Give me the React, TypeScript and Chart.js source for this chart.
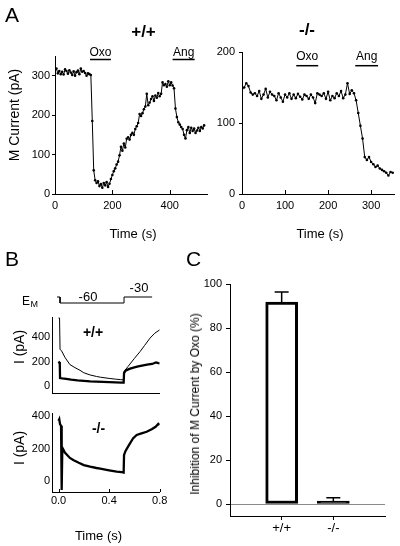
import React, { useEffect, useRef } from 'react';
import { Chart, registerables } from 'chart.js';

Chart.register(...registerables);

const FONT = '"Liberation Sans", Arial, Helvetica, sans-serif';
Chart.defaults.font.family = FONT;
Chart.defaults.color = '#000';

// ---------- Panel A, +/+ : M current vs time ----------
const wtTime = [0,5,10,15,20,25,30,35,40,45,50,55,60,65,70,75,80,85,90,95,100,105,110,115,120,125,130,135,140,145,150,155,160,165,170,175,180,185,190,195,200,205,210,215,220,225,230,235,240,245,250,255,260,265,270,275,280,285,290,295,300,305,310,315,320,325,330,335,340,345,350,355,360,365,370,375,380,385,390,395,400,405,410,415,420,425,430,435,440,445,450,455,460,465,470,475,480,485,490,495,500,505,510,515,520];
const wtCurrent = [315,318,306,312,304,310,303,316,312,305,314,308,302,311,300,309,313,304,318,310,312,307,300,306,304,302,
  185,60,35,28,32,20,25,16,28,22,30,18,26,38,48,58,65,75,82,98,120,110,128,118,140,144,138,150,155,150,
  165,172,180,203,198,205,215,222,254,225,232,241,248,236,250,244,256,248,254,283,276,279,272,286,276,283,275,268,217,195,
  182,176,170,165,150,141,162,170,155,168,160,166,155,161,168,160,170,166,174];
const wtOxo = [122, 195];
const wtAng = [410, 487];
const aWtXTicks = [0, 200, 400];
const aWtYTicks = [0, 100, 200, 300];

// ---------- Panel A, -/- ----------
const koTime = [0,5,10,15,20,25,30,35,40,45,50,55,60,65,70,75,80,85,90,95,100,105,110,115,120,125,130,135,140,145,150,155,160,165,170,175,180,185,190,195,200,205,210,215,220,225,230,235,240,245,250,255,260,265,270,275,280,285,290,295,300,305,310,315,320,325,330,335,340,345,350];
const koCurrent = [148,150,156,152,143,140,142,138,145,134,140,148,
  136,144,140,138,132,142,136,130,140,136,142,134,
  140,135,141,137,133,140,138,134,140,136,128,142,
  140,138,142,134,144,132,138,135,142,138,145,135,
  140,156,141,146,142,132,114,96,78,52,48,52,
  45,42,38,40,36,34,32,30,26,31,30];
const koOxo = [126, 177];
const koAng = [263, 316];
const aKoXTicks = [0, 100, 200, 300];
const aKoYTicks = [0, 100, 200];

// ---------- Panel B ----------
const emTime = [-0.012, 0.012, 0.012, 0.518, 0.518, 0.74];
const emLevel = [-30, -30, -60, -60, -30, -30];

const bWtCtrlTime = [0,0.008,0.012,0.025,0.05,0.065,0.09,0.13,0.17,0.2,0.25,0.3,0.33,0.4,0.45,0.49,0.515,0.518,0.55,0.6,0.644,0.68,0.723,0.76,0.8];
const bWtCtrlCurrent = [555,555,300,285,235,212,175,150,128,108,90,78,72,62,56,52,50,118,160,225,280,330,390,430,458];
const bWtOxoTime = [0,0.004,0.01,0.012,0.03,0.06,0.1,0.15,0.2,0.25,0.3,0.35,0.4,0.45,0.5,0.515,0.518,0.53,0.56,0.6,0.63,0.66,0.7,0.74,0.77,0.79,0.8];
const bWtOxoCurrent = [200,195,180,65,62,58,52,46,42,38,36,33,31,30,28,28,105,125,140,152,160,166,174,180,192,186,184];
const bKoTime = [0,0.006,0.012,0.02,0.025,0.03,0.05,0.09,0.12,0.16,0.2,0.25,0.3,0.33,0.4,0.46,0.5,0.515,0.518,0.53,0.552,0.589,0.618,0.65,0.697,0.74,0.77,0.789,0.8];
const bKoCurrent = [370,380,350,340,-55,205,175,142,128,112,98,88,80,76,66,58,54,52,160,185,215,262,283,292,303,320,335,352,345];
const bXTicks = [0, 0.4, 0.8];
const bYTicks = [0, 200, 400];

// ---------- Panel C ----------
const cGroups = ['+/+', '-/-'];
const cInhibition = [91.8, 0.5];
const cSem = [4.6, 2.4];
const cYTicks = [0, 20, 40, 60, 80, 100];

// ---------- helpers ----------
const zip = (xs: number[], ys: number[]) => xs.map((x, i) => ({ x, y: ys[i] }));
const fixTicks = (vals: number[]) => (s: any) => { s.ticks = vals.map((v) => ({ value: v })); };
const tickFont = { size: 11, family: FONT };
const border = { display: true, color: '#000', width: 1 };
const noPlugins = { legend: { display: false }, tooltip: { enabled: false } };

const innerTicksPlugin = {
  id: 'innerTicks',
  afterDatasetsDraw(chart: any, _a: any, opts: any) {
    if (!opts || !opts.length) return;
    const s = chart.scales.x;
    const ctx = chart.ctx;
    const b = chart.chartArea.bottom;
    ctx.save();
    ctx.strokeStyle = '#000';
    ctx.lineWidth = 1;
    s.ticks.forEach((t: any) => {
      const px = Math.round(s.getPixelForValue(t.value)) + 0.5;
      ctx.beginPath();
      ctx.moveTo(px, b);
      ctx.lineTo(px, b - opts.length);
      ctx.stroke();
    });
    ctx.restore();
  },
};

const drugBarsPlugin = {
  id: 'drugBars',
  afterDatasetsDraw(chart: any, _a: any, opts: any) {
    if (!opts || !opts.bars) return;
    const s = chart.scales.x;
    const ctx = chart.ctx;
    const y = chart.chartArea.top + opts.offset;
    ctx.save();
    ctx.strokeStyle = '#000';
    ctx.fillStyle = '#000';
    ctx.lineWidth = 1.5;
    ctx.font = `12px ${FONT}`;
    ctx.textAlign = 'center';
    ctx.textBaseline = 'alphabetic';
    opts.bars.forEach((b: any) => {
      const x0 = s.getPixelForValue(b.period[0]);
      const x1 = s.getPixelForValue(b.period[1]);
      ctx.beginPath();
      ctx.moveTo(x0, y);
      ctx.lineTo(x1, y);
      ctx.stroke();
      ctx.fillText(b.label, (x0 + x1) / 2, y - opts.gap);
    });
    ctx.restore();
  },
};

const errorBarsPlugin = {
  id: 'errorBars',
  afterDatasetsDraw(chart: any) {
    const meta = chart.getDatasetMeta(0);
    const ys = chart.scales.y;
    const ctx = chart.ctx;
    ctx.save();
    ctx.strokeStyle = '#000';
    ctx.lineWidth = 1.5;
    meta.data.forEach((bar: any, i: number) => {
      const x = bar.x;
      const y0 = bar.y;
      const y1 = ys.getPixelForValue(cInhibition[i] + cSem[i]);
      ctx.beginPath();
      ctx.moveTo(x, y0);
      ctx.lineTo(x, y1);
      ctx.moveTo(x - 7, y1);
      ctx.lineTo(x + 7, y1);
      ctx.stroke();
    });
    ctx.restore();
  },
};

const lineDs = (pts: any[], w: number, r: number) => ({
  data: pts,
  borderColor: '#000',
  backgroundColor: '#000',
  borderWidth: w,
  pointRadius: r,
  pointBackgroundColor: '#000',
  pointBorderWidth: 0,
  pointHoverRadius: 0,
  tension: 0,
  fill: false,
});

const common = (padding: any) => ({
  responsive: false,
  maintainAspectRatio: false,
  animation: false,
  devicePixelRatio: 1,
  events: [],
  layout: { padding },
});

function cfgA1() {
  return {
    type: 'line',
    data: { datasets: [lineDs(zip(wtTime, wtCurrent), 1, 1.3)] },
    options: {
      ...common({ left: 25, top: 56, right: 193, bottom: 332 }),
      plugins: {
        ...noPlugins,
        innerTicks: { length: 4 },
        drugBars: { offset: 3.5, gap: 3.5, bars: [{ label: 'Oxo', period: wtOxo }, { label: 'Ang', period: wtAng }] },
      },
      scales: {
        x: {
          type: 'linear', min: 0, max: 530,
          afterBuildTicks: fixTicks(aWtXTicks), afterFit: (s: any) => { s.height = 20; },
          grid: { display: false, drawTicks: false }, border,
          ticks: { font: tickFont, padding: 5, autoSkip: false, maxRotation: 0 },
        },
        y: {
          type: 'linear', min: 0, max: 350,
          afterBuildTicks: fixTicks(aWtYTicks), afterFit: (s: any) => { s.width = 30; },
          grid: { display: true, drawOnChartArea: false, drawTicks: true, tickLength: 3, color: '#000' }, border,
          ticks: { font: tickFont, padding: 2, autoSkip: false },
        },
      },
    },
    plugins: [innerTicksPlugin, drugBarsPlugin],
  };
}

function cfgA2() {
  return {
    type: 'line',
    data: { datasets: [lineDs(zip(koTime, koCurrent), 1, 1.3)] },
    options: {
      ...common({ left: 202, top: 52, right: 6, bottom: 332 }),
      plugins: {
        ...noPlugins,
        innerTicks: { length: 4 },
        drugBars: { offset: 13.7, gap: 5.7, bars: [{ label: 'Oxo', period: koOxo }, { label: 'Ang', period: koAng }] },
      },
      scales: {
        x: {
          type: 'linear', min: 0, max: 353,
          afterBuildTicks: fixTicks(aKoXTicks), afterFit: (s: any) => { s.height = 20; },
          grid: { display: false, drawTicks: false }, border,
          ticks: { font: tickFont, padding: 5, autoSkip: false, maxRotation: 0 },
        },
        y: {
          type: 'linear', min: 0, max: 200,
          afterBuildTicks: fixTicks(aKoYTicks), afterFit: (s: any) => { s.width = 40; },
          grid: { display: true, drawOnChartArea: false, drawTicks: true, tickLength: 3, color: '#000' }, border,
          ticks: { font: tickFont, padding: 4, autoSkip: false },
        },
      },
    },
    plugins: [innerTicksPlugin, drugBarsPlugin],
  };
}

function cfgEm() {
  return {
    type: 'line',
    data: { datasets: [lineDs(zip(emTime, emLevel), 1, 0)] },
    options: {
      ...common({ left: 52.2, top: 290, right: 240.3, bottom: 236 }),
      plugins: { ...noPlugins },
      scales: {
        x: { type: 'linear', min: -0.05, max: 0.8, display: false },
        y: { type: 'linear', min: -95, max: 5, display: false },
      },
    },
  };
}

function cfgB1() {
  return {
    type: 'line',
    data: {
      datasets: [
        lineDs(zip(bWtCtrlTime, bWtCtrlCurrent), 1, 0),
        lineDs(zip(bWtOxoTime, bWtOxoCurrent), 2.3, 0),
      ],
    },
    options: {
      ...common({ left: 22.2, top: 317, right: 240.3, bottom: 152 }),
      plugins: { ...noPlugins },
      scales: {
        x: {
          type: 'linear', min: -0.05, max: 0.8,
          afterFit: (s: any) => { s.height = 1; },
          grid: { display: false, drawTicks: false }, border,
          ticks: { display: false },
        },
        y: {
          type: 'linear', min: -57, max: 563,
          afterBuildTicks: fixTicks(bYTicks), afterFit: (s: any) => { s.width = 30; },
          grid: { display: false, drawTicks: false }, border,
          ticks: { font: tickFont, padding: 2, autoSkip: false },
        },
      },
    },
  };
}

function cfgB2() {
  return {
    type: 'line',
    data: { datasets: [lineDs(zip(bKoTime, bKoCurrent), 2.3, 0)] },
    options: {
      ...common({ left: 22.2, top: 413, right: 240.3, bottom: 34 }),
      plugins: { ...noPlugins, innerTicks: { length: 3 } },
      scales: {
        x: {
          type: 'linear', min: -0.05, max: 0.8,
          afterBuildTicks: fixTicks(bXTicks), afterFit: (s: any) => { s.height = 20; },
          grid: { display: false, drawTicks: false }, border,
          ticks: { font: tickFont, padding: 2, autoSkip: false, maxRotation: 0, callback: (v: any) => Number(v).toFixed(1) },
        },
        y: {
          type: 'linear', min: -67.7, max: 418.5,
          afterBuildTicks: fixTicks(bYTicks), afterFit: (s: any) => { s.width = 30; },
          grid: { display: false, drawTicks: false }, border,
          ticks: { font: tickFont, padding: 2, autoSkip: false },
        },
      },
    },
    plugins: [innerTicksPlugin],
  };
}

function cfgC() {
  return {
    type: 'bar',
    data: {
      datasets: [{
        data: cGroups.map((_g, i) => ({ x: i + 1, y: cInhibition[i] })),
        backgroundColor: ['#fff', '#000'],
        borderColor: '#000',
        borderWidth: 3,
        borderSkipped: false,
        barThickness: 32,
        minBarLength: 3,
      }],
    },
    options: {
      ...common({ left: 200, top: 284, right: 15, bottom: 2 }),
      plugins: { ...noPlugins },
      scales: {
        x: {
          type: 'linear', min: 0, max: 3, offset: false,
          afterBuildTicks: fixTicks(cGroups.map((_g, i) => i + 1)), afterFit: (s: any) => { s.height = 28; },
          grid: { display: true, offset: false, drawOnChartArea: false, drawTicks: true, tickLength: 4, color: '#000' }, border,
          ticks: { font: { size: 13, family: FONT }, padding: 1, autoSkip: false, maxRotation: 0, callback: (v: any) => cGroups[Number(v) - 1] },
        },
        y: {
          type: 'linear', min: -5.45, max: 100,
          afterBuildTicks: fixTicks(cYTicks), afterFit: (s: any) => { s.width = 30; },
          grid: {
            display: true, drawOnChartArea: true, drawTicks: true, tickLength: 4,
            color: (ctx: any) => (ctx.tick && ctx.tick.value === 0 ? '#8a8a8a' : 'rgba(0,0,0,0)'),
            tickColor: '#000',
          },
          border,
          ticks: { font: tickFont, padding: 4, autoSkip: false },
        },
      },
    },
    plugins: [errorBarsPlugin],
  };
}

const T = ({ x, base, size, bold, center, children }: any) => (
  <div style={{
    position: 'absolute', left: x, top: base - 0.8465 * size, fontSize: size, lineHeight: `${size}px`,
    fontWeight: bold ? 'bold' : 'normal', fontFamily: FONT, whiteSpace: 'nowrap', color: '#000',
    transform: center ? 'translateX(-50%)' : undefined,
  }}>{children}</div>
);

const R = ({ cx, cy, size, rotate, children }: any) => (
  <div style={{
    position: 'absolute', left: cx, top: cy, fontSize: size, lineHeight: `${size}px`, fontFamily: FONT,
    whiteSpace: 'nowrap', color: '#000', transform: `translate(-50%,-50%)${rotate ? ' rotate(-90deg)' : ''}`,
  }}>{children}</div>
);

export default function App() {
  const r1 = useRef<HTMLCanvasElement>(null);
  const r2 = useRef<HTMLCanvasElement>(null);
  const r3 = useRef<HTMLCanvasElement>(null);
  const r4 = useRef<HTMLCanvasElement>(null);
  const r5 = useRef<HTMLCanvasElement>(null);
  const r6 = useRef<HTMLCanvasElement>(null);

  useEffect(() => {
    const refs = [r1, r2, r3, r4, r5, r6];
    const cfgs = [cfgA1(), cfgA2(), cfgEm(), cfgB1(), cfgB2(), cfgC()];
    const charts = cfgs.map((c, i) => new Chart(refs[i].current as HTMLCanvasElement, c as any));
    return () => charts.forEach((ch) => ch.destroy());
  }, []);

  const cv = { position: 'absolute' as const, left: 0, top: 0, width: 400, height: 546 };

  return (
    <div style={{ position: 'fixed', left: 0, top: 0, width: 400, height: 546, background: '#fff', overflow: 'hidden' }}>
      <canvas ref={r1} width={400} height={546} style={cv} />
      <canvas ref={r2} width={400} height={546} style={cv} />
      <canvas ref={r3} width={400} height={546} style={cv} />
      <canvas ref={r4} width={400} height={546} style={cv} />
      <canvas ref={r5} width={400} height={546} style={cv} />
      <canvas ref={r6} width={400} height={546} style={cv} />

      <T x={5} base={22} size={21}>A</T>
      <T x={5} base={266} size={21}>B</T>
      <T x={186} base={266} size={21}>C</T>

      <T x={143.5} base={37.5} size={17} bold center>+/+</T>
      <T x={307} base={35.5} size={17} bold center>-/-</T>
      <R cx={14} cy={115} size={14} rotate>M Current (pA)</R>
      <R cx={133} cy={232.5} size={13}>Time (s)</R>
      <R cx={320} cy={232.5} size={13}>Time (s)</R>

      <T x={22} base={305} size={12}>E</T>
      <T x={30.5} base={308} size={9}>M</T>
      <T x={88} base={301} size={13} center>-60</T>
      <T x={139} base={292} size={13} center>-30</T>
      <T x={93} base={337} size={14} bold center>+/+</T>
      <T x={98.5} base={433} size={14} bold center>-/-</T>
      <R cx={19} cy={347} size={14} rotate>I (pA)</R>
      <R cx={19} cy={447.5} size={14} rotate>I (pA)</R>
      <R cx={98.5} cy={535} size={13}>Time (s)</R>

      <R cx={195} cy={404} size={12} rotate>Inhibition of M Current by Oxo (%)</R>
    </div>
  );
}
